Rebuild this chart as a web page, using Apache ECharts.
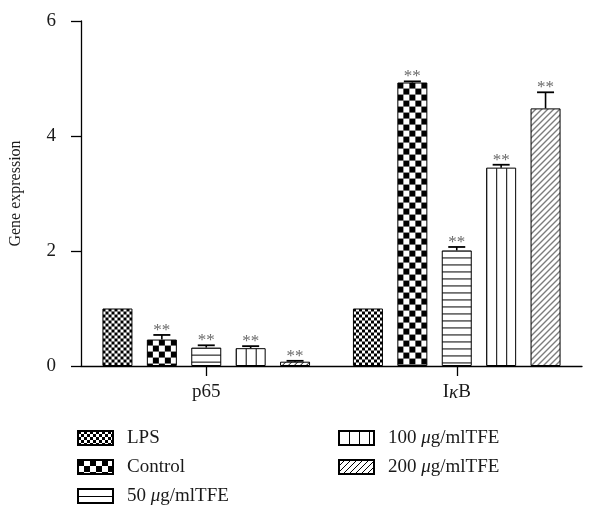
<!DOCTYPE html>
<html>
<head>
<meta charset="utf-8">
<script src="https://cdn.jsdelivr.net/npm/echarts@6/dist/echarts.min.js"></script>
<style>
html,body{margin:0;padding:0;background:#fff;}
#chart{width:594px;height:506px;}
</style>
</head>
<body>
<div id="chart"></div>
<script>
// ---- data ----
var categories = ['p65', 'IκB'];
var seriesNames = ['LPS', 'Control', '50 μg/mlTFE', '100 μg/mlTFE', '200 μg/mlTFE'];
var lpsValues = [1.00, 1.00];
var controlValues = [0.46, 4.93];
var tfe50Values = [0.32, 2.01];
var tfe100Values = [0.31, 3.45];
var tfe200Values = [0.075, 4.48];
var lpsErrors = [0, 0];
var controlErrors = [0.08, 0.02];
var tfe50Errors = [0.04, 0.06];
var tfe100Errors = [0.035, 0.05];
var tfe200Errors = [0.015, 0.28];
var sigLabels = ['', '**', '**', '**', '**'];
var yTicks = [0, 2, 4, 6];

var allValues = [lpsValues, controlValues, tfe50Values, tfe100Values, tfe200Values];
var allErrors = [lpsErrors, controlErrors, tfe50Errors, tfe100Errors, tfe200Errors];

// ---- styles ----
var FONT = "'Liberation Serif','DejaVu Serif',serif";
var TXT = '#1a1a1a';
var BAR_W = 30, BAR_GAP = 0.48;
var BAR_STEP = BAR_W * (1 + BAR_GAP);
var PATTERN_TYPES = ['fineCheck', 'check', 'hlines', 'vlines', 'diag'];

function makeCanvas(type) {
  var c = document.createElement('canvas');
  var ctx;
  if (type === 'fineCheck') {
    c.width = 6; c.height = 6; ctx = c.getContext('2d');
    ctx.fillStyle = '#fff'; ctx.fillRect(0, 0, 6, 6);
    ctx.fillStyle = '#000'; ctx.fillRect(0, 0, 3, 3); ctx.fillRect(3, 3, 3, 3);
  } else if (type === 'check') {
    c.width = 12; c.height = 12; ctx = c.getContext('2d');
    ctx.fillStyle = '#fff'; ctx.fillRect(0, 0, 12, 12);
    ctx.fillStyle = '#000'; ctx.fillRect(0, 0, 6, 6); ctx.fillRect(6, 6, 6, 6);
  } else if (type === 'hlines') {
    c.width = 4; c.height = 7; ctx = c.getContext('2d');
    ctx.fillStyle = '#fff'; ctx.fillRect(0, 0, 4, 7);
    ctx.fillStyle = '#000'; ctx.fillRect(0, 0, 4, 1);
  } else if (type === 'vlines') {
    c.width = 10; c.height = 4; ctx = c.getContext('2d');
    ctx.fillStyle = '#fff'; ctx.fillRect(0, 0, 10, 4);
    ctx.fillStyle = '#000'; ctx.fillRect(0, 0, 1, 4);
  } else {
    c.width = 6; c.height = 6; ctx = c.getContext('2d');
    ctx.fillStyle = '#fff'; ctx.fillRect(0, 0, 6, 6);
    ctx.strokeStyle = '#000'; ctx.lineWidth = 1;
    ctx.beginPath();
    ctx.moveTo(-1, 7); ctx.lineTo(7, -1);
    ctx.moveTo(-1, 1); ctx.lineTo(1, -1);
    ctx.moveTo(5, 7); ctx.lineTo(7, 5);
    ctx.stroke();
  }
  return c;
}
var canvases = PATTERN_TYPES.map(makeCanvas);
function pattern(i, x, y) {
  return { image: canvases[i], repeat: 'repeat', x: x || 0, y: y || 0 };
}

var chart = echarts.init(document.getElementById('chart'), null, { renderer: 'canvas' });

var barSeries = seriesNames.map(function (name, i) {
  return {
    name: name,
    type: 'bar',
    barWidth: BAR_W,
    barGap: (BAR_GAP * 100) + '%',
    data: allValues[i].slice(),
    itemStyle: { color: pattern(i), borderColor: '#000', borderWidth: 1 },
    emphasis: { disabled: true },
    animation: false
  };
});

var errData = [];
for (var s = 0; s < seriesNames.length; s++) {
  for (var c = 0; c < categories.length; c++) {
    errData.push([c, allValues[s][c], allErrors[s][c], s]);
  }
}

var errSeries = {
  name: 'err',
  type: 'custom',
  data: errData,
  animation: false,
  silent: true,
  z: 5,
  renderItem: function (params, api) {
    var cat = api.value(0), v = api.value(1), e = api.value(2), si = api.value(3);
    var base = api.coord([cat, v]);
    var top = api.coord([cat, v + e]);
    var x = base[0] + (si - 2) * BAR_STEP;
    var children = [];
    if (e > 0) {
      children.push({ type: 'line', shape: { x1: x, y1: base[1], x2: x, y2: top[1] }, style: { stroke: '#000', lineWidth: 1.6 } });
      children.push({ type: 'line', shape: { x1: x - 8.5, y1: top[1], x2: x + 8.5, y2: top[1] }, style: { stroke: '#000', lineWidth: 1.8 } });
    }
    if (sigLabels[si]) {
      children.push({ type: 'text', style: { text: sigLabels[si], x: x, y: top[1] + 4, align: 'center', verticalAlign: 'bottom', fontSize: 17, fontFamily: FONT, fill: '#6a6a6a' } });
    }
    return { type: 'group', children: children };
  }
};

var legendText = {
  fontSize: 19, fontFamily: FONT, color: TXT, lineHeight: 20, padding: [0, 0, 0, 9],
  rich: { i: { fontSize: 19, fontFamily: FONT, fontStyle: 'italic', color: TXT } }
};
function legendFmt(name) { return name.replace('μ', '{i|μ}'); }
var legendBase = { orient: 'vertical', top: 428, height: 120, itemWidth: 35, itemHeight: 14, itemGap: 9, icon: 'rect', textStyle: legendText, formatter: legendFmt, selectedMode: false, padding: 0 };

var option = {
  backgroundColor: '#fff',
  animation: false,
  grid: { left: 77, right: 12, top: 21, bottom: 140, containLabel: false },
  legend: [
    Object.assign({ data: seriesNames.slice(0, 3), left: 77 }, legendBase),
    Object.assign({ data: seriesNames.slice(3), left: 338 }, legendBase)
  ],
  xAxis: {
    type: 'category',
    data: categories,
    axisLine: { show: true, lineStyle: { color: '#000', width: 1.3 } },
    axisTick: { show: true, alignWithLabel: true, length: 10, lineStyle: { color: '#000', width: 1.3 } },
    axisLabel: {
      margin: 17, fontSize: 19, fontFamily: FONT, color: TXT,
      formatter: function (v) { return v.replace('κ', '{i|κ}'); },
      rich: { i: { fontSize: 19, fontFamily: FONT, fontStyle: 'italic', color: TXT } }
    }
  },
  yAxis: {
    type: 'value',
    min: yTicks[0], max: yTicks[yTicks.length - 1], interval: yTicks[1] - yTicks[0],
    name: 'Gene expression', nameLocation: 'middle', nameRotate: 90, nameGap: 57,
    nameTextStyle: { fontSize: 16, fontFamily: FONT, color: TXT },
    axisLine: { show: true, lineStyle: { color: '#000', width: 1.3 } },
    axisTick: { show: true, length: 10, lineStyle: { color: '#000', width: 1.3 } },
    axisLabel: { margin: 25, fontSize: 19, fontFamily: FONT, color: TXT },
    splitLine: { show: false }
  },
  series: barSeries.concat([errSeries])
};
chart.setOption(option);

// anchor each bar's fill pattern to the bar's own corner
try {
  var model = chart.getModel();
  var upd = seriesNames.map(function (name, i) {
    var d = model.getSeriesByIndex(i).getData();
    return {
      data: allValues[i].map(function (v, j) {
        var L = d.getItemLayout(j);
        var topY = Math.min(L.y, L.y + L.height);
        return { value: v, itemStyle: { color: pattern(i, L.x, topY) } };
      })
    };
  });
  chart.setOption({ series: upd });
} catch (err) {}
</script>
</body>
</html>
